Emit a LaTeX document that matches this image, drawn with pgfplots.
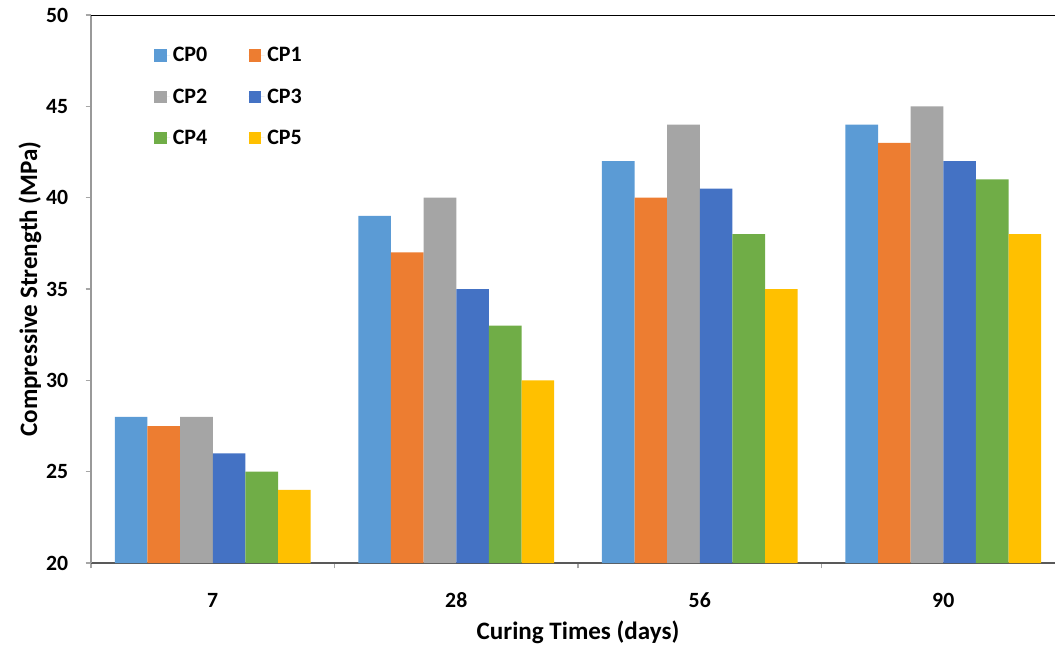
\documentclass[border=0pt]{standalone}
\usepackage{pgfplots}
\pgfplotsset{compat=1.18}
\usepackage{fontspec}
\setmainfont{Carlito}
\definecolor{c0}{HTML}{5B9BD5}
\definecolor{c1}{HTML}{ED7D31}
\definecolor{c2}{HTML}{A5A5A5}
\definecolor{c3}{HTML}{4472C4}
\definecolor{c4}{HTML}{70AD47}
\definecolor{c5}{HTML}{FFC000}
\begin{document}
\begin{tikzpicture}
\begin{axis}[
  at={(0,0)}, anchor=south west,
  scale only axis,
  width=730.5pt, height=411pt,
  xmin=-0.5, xmax=3.5,
  ymin=20, ymax=50,
  ytick={20,25,30,35,40,45,50},
  xtick={-0.5,0.5,1.5,2.5,3.5},
  xticklabels={},
  extra x ticks={0,1,2,3},
  extra x tick labels={7,28,56,90},
  extra x tick style={major tick length=0pt},
  axis x line*=bottom,
  axis y line*=left,
  x axis line style={draw=black!65, line width=1.5pt},
  y axis line style={draw=black!40, line width=1.5pt},
  tick align=outside,
  major tick length=4pt,
  tick style={draw=black!35, line width=0.8pt},
  /pgf/number format/assume math mode=true,
  font=\bfseries,
  tick label style={font=\fontsize{16.3}{18}\selectfont\bfseries},
  xticklabel style={anchor=center, yshift=-28pt},
  yticklabel style={anchor=east, inner sep=0pt, xshift=-13pt},
  xlabel={Curing Times (days)},
  ylabel={Compressive Strength (MPa)},
  label style={font=\fontsize{18.8}{21}\selectfont\bfseries},
  xlabel style={at={(axis description cs:0.5,-0.126)}, anchor=center},
  ylabel style={at={(axis description cs:-0.0626,0.5)}, anchor=center},
  bar width=0.134,
  legend style={at={(axis description cs:0.0645,0.946)}, anchor=north west,
    draw=none, fill=none, font=\fontsize{16.5}{18}\selectfont\bfseries,
    /tikz/every even column/.append style={column sep=29pt},
    row sep=14.5pt, inner sep=0pt},
  legend columns=2,
  legend cell align=left,
  legend image code/.code={\fill[#1] (0pt,-4.75pt) rectangle (9.5pt,4.75pt);\path (0pt,0pt) -- (12pt,0pt);},
  every axis plot/.append style={ybar, draw=none},
]
\addplot[fill=c0, bar shift=-0.335] coordinates {(0,28) (1,39) (2,42) (3,44)};
\addplot[fill=c1, bar shift=-0.201] coordinates {(0,27.5) (1,37) (2,40) (3,43)};
\addplot[fill=c2, bar shift=-0.067] coordinates {(0,28) (1,40) (2,44) (3,45)};
\addplot[fill=c3, bar shift=0.067] coordinates {(0,26) (1,35) (2,40.5) (3,42)};
\addplot[fill=c4, bar shift=0.201] coordinates {(0,25) (1,33) (2,38) (3,41)};
\addplot[fill=c5, bar shift=0.335] coordinates {(0,24) (1,30) (2,35) (3,38)};
\legend{CP0,CP1,CP2,CP3,CP4,CP5}
\draw[black, line width=2.2pt] (rel axis cs:0,1) -- (rel axis cs:1,1);
\end{axis}
\pgfresetboundingbox
\path (-68.25pt,-63pt) rectangle (723pt,422.25pt);
\end{tikzpicture}
\end{document}
